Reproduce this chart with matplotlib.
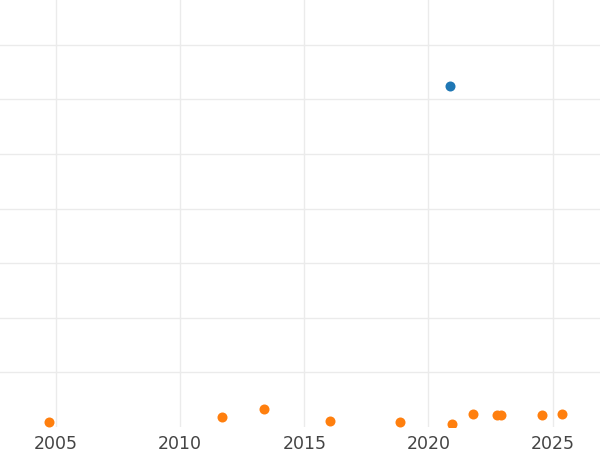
import matplotlib
matplotlib.use("Agg")
import matplotlib.pyplot as plt

# blue series (single point)
blue_year = [2020.85]
blue_val = [62.45]

# orange series
orange_year = [2004.73, 2011.69, 2013.36, 2016.05, 2018.84, 2020.94,
               2021.78, 2022.76, 2022.92, 2024.56, 2025.39]
orange_val = [0.97, 1.77, 3.29, 1.15, 0.86, 0.55,
              2.38, 2.25, 2.14, 2.2, 2.32]

xticks = [2005, 2010, 2015, 2020, 2025]
yticks = [10, 20, 30, 40, 50, 60, 70]

fig = plt.figure(figsize=(6, 4.5), dpi=100)
ax = fig.add_axes([0, 1 - 427 / 450, 1, 427 / 450])

ax.scatter(blue_year, blue_val, s=52, color='#1f77b4', zorder=3, linewidths=0)
ax.scatter(orange_year, orange_val, s=52, color='#ff7f0e', zorder=3, linewidths=0)

ax.set_xlim(2002.745, 2026.91)
ax.set_ylim(0, 78.2)
ax.set_xticks(xticks)
ax.set_xticklabels([str(t) for t in xticks])
ax.set_yticks(yticks)
ax.set_yticklabels([])

ax.grid(True, color='#ebebeb', linewidth=1.0)
ax.set_axisbelow(True)
for s in ax.spines.values():
    s.set_visible(False)
ax.tick_params(axis='both', length=0)
ax.tick_params(axis='x', labelsize=12.5, labelcolor='#444444', pad=6)

fig.savefig('out.png', dpi=100)
